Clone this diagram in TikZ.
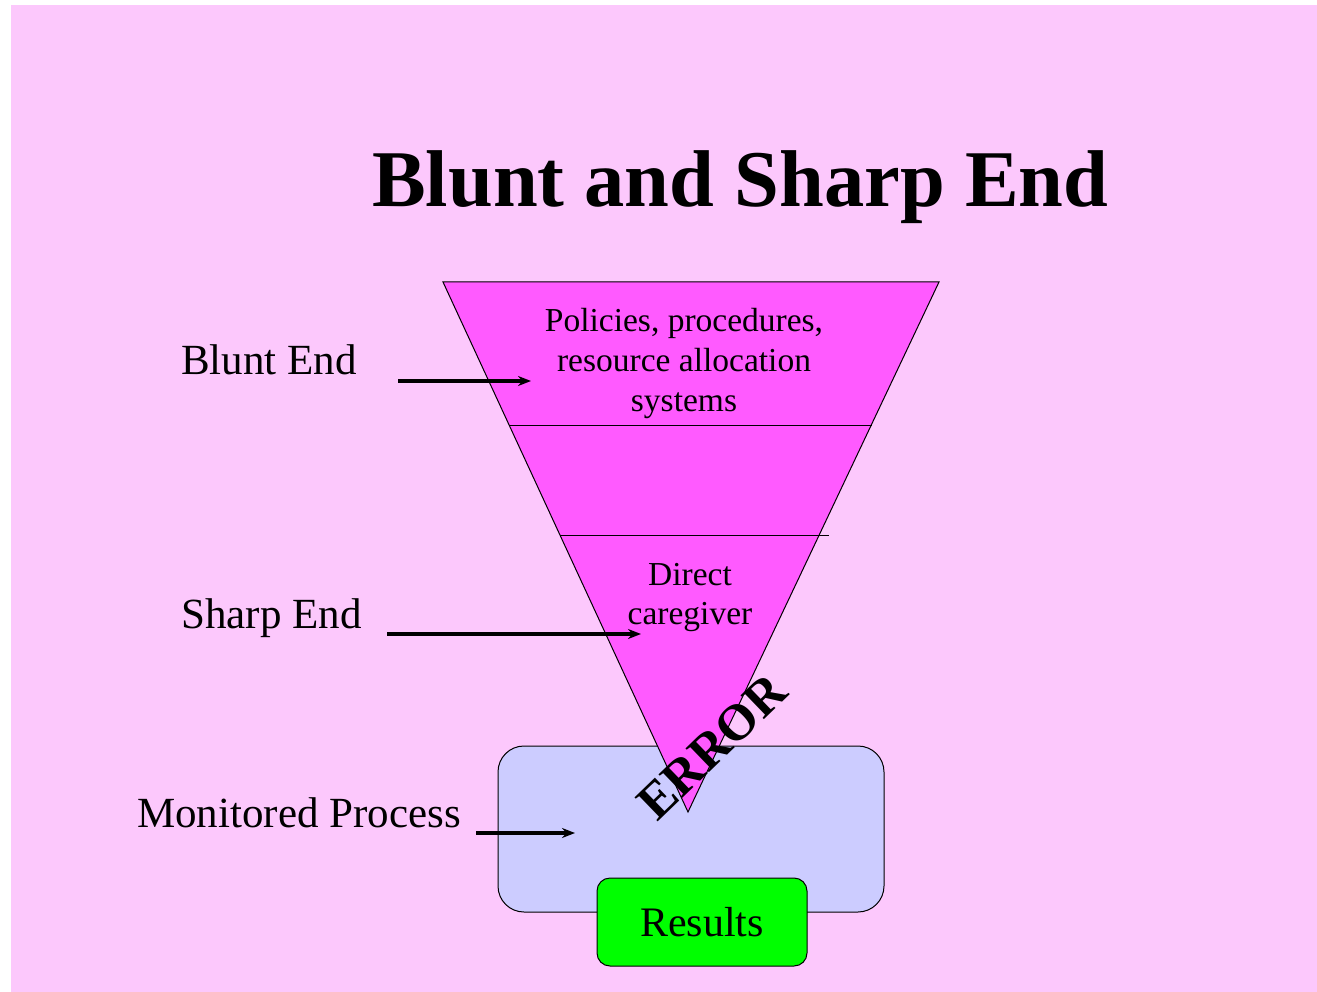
\documentclass[tikz,border=0pt]{standalone}
\usepackage{fontspec}
\setmainfont{Liberation Serif}
\usetikzlibrary{arrows.meta}
\definecolor{slidebg}{RGB}{252,200,252}
\definecolor{funnelfill}{RGB}{255,90,255}
\definecolor{processfill}{RGB}{204,204,255}
\definecolor{resultfill}{RGB}{0,255,0}
\tikzset{
  lbl/.style={anchor=base west, inner sep=0pt, font=\fontsize{43}{50}\selectfont},
  inlbl/.style={anchor=base, inner sep=0pt, font=\fontsize{33.5}{40}\selectfont},
  pointer/.style={line width=3.2pt, -{Stealth[length=13pt,width=10pt]}},
  edge/.style={line width=1pt, draw=black}
}
\begin{document}
\begin{tikzpicture}[x=1pt,y=-1pt]
  \useasboundingbox (0,0) rectangle (1317,992);
  \fill[white] (0,0) rectangle (1317,992);
  \fill[slidebg] (11,5) rectangle (1317,992);

  % title
  \node[anchor=base west, inner sep=0pt, font=\fontsize{80.5}{96}\selectfont\bfseries] (title) at (372,207) {Blunt and Sharp End};

  % monitored process box
  \node[edge, fill=processfill, rounded corners=26pt, minimum width=386pt, minimum height=166pt, inner sep=0pt] (proc) at (691,829) {};

  % funnel
  \coordinate (tl) at (443,282);
  \coordinate (tr) at (939,282);
  \coordinate (apex) at (688,812);
  \filldraw[edge, fill=funnelfill, line join=miter] (tl) -- (tr) -- (apex) -- cycle;
  \coordinate (d1l) at (509,425);
  \coordinate (d1r) at (872,425);
  \coordinate (d2l) at (560,535);
  \coordinate (d2r) at (829,535);
  \draw[edge] (d1l) -- (d1r);
  \draw[edge] (d2l) -- (d2r);

  % funnel texts
  \node[inlbl] (pol1) at (684,331) {Policies, procedures,};
  \node[inlbl] (pol2) at (684,371) {resource allocation};
  \node[inlbl] (pol3) at (684,411) {systems};
  \node[inlbl] (dir1) at (690,585) {Direct};
  \node[inlbl] (dir2) at (690,624) {caregiver};

  % results box
  \node[edge, fill=resultfill, rounded corners=13pt, minimum width=210pt, minimum height=88pt, inner sep=0pt, font=\fontsize{42}{50}\selectfont] (res) at (702,922) {Results};

  % error label
  \node[inner sep=0pt, rotate=44, font=\fontsize{51}{60}\selectfont\bfseries] (err) at (712,747) {ERROR};

  % side labels
  \node[lbl] (blunt) at (181,374) {Blunt End};
  \node[lbl] (sharp) at (181,628) {Sharp End};
  \node[lbl] (mon) at (137,827) {Monitored Process};

  % pointers
  \coordinate (ba) at (398,381);
  \coordinate (bb) at (531,381);
  \coordinate (sa) at (387,634);
  \coordinate (sb) at (641,634);
  \coordinate (ma) at (476,833);
  \coordinate (mb) at (575,833);
  \draw[pointer] (ba) -- (bb);
  \draw[pointer] (sa) -- (sb);
  \draw[pointer] (ma) -- (mb);
\end{tikzpicture}
\end{document}
